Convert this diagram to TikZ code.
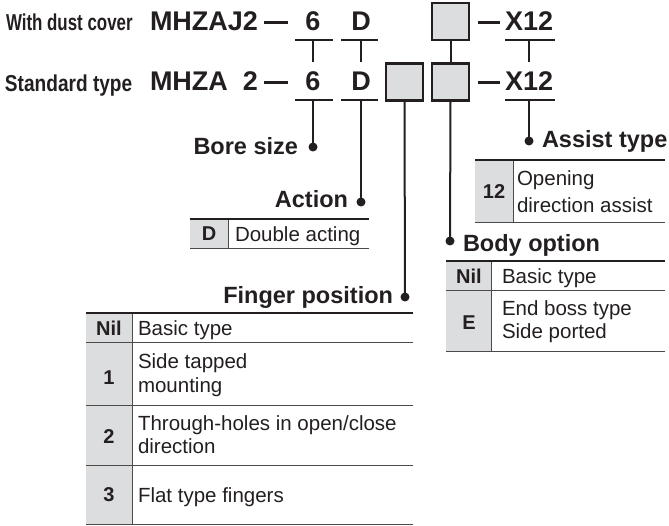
\documentclass[tikz,border=0pt]{standalone}
\usepackage{fontspec}
\setmainfont{Liberation Sans}
\usepackage{graphicx}
\definecolor{ink}{HTML}{231F20}
\definecolor{cellgray}{HTML}{DCDDDF}
\definecolor{rulegray}{HTML}{4A4A4A}
\tikzset{
  code/.style={font=\fontsize{27}{30}\selectfont\bfseries},
  lbl/.style={font=\fontsize{23.5}{26}\selectfont\bfseries},
  cond/.style={font=\fontsize{23}{25}\selectfont\bfseries, anchor=base west},
  celltxt/.style={font=\fontsize{20.5}{23}\selectfont, anchor=base west},
  keytxt/.style={font=\fontsize{20}{22}\selectfont\bfseries},
  conn/.style={draw=ink, line width=2pt},
  uline/.style={draw=ink, line width=2pt},
  dashln/.style={draw=ink, line width=3pt},
  dotnode/.style={circle, fill=ink, minimum size=9pt},
  gbox/.style={draw=ink, fill=cellgray, line width=2.2pt, minimum width=37pt, minimum height=37pt},
  toprule/.style={draw=ink, line width=2.4pt},
  thinrule/.style={draw=rulegray, line width=1pt},
}
\begin{document}
\begin{tikzpicture}[x=1pt, y=-1pt, every node/.style={inner sep=0pt, outer sep=0pt, text=ink}]
\useasboundingbox (0,0) rectangle (669,526);

% ---- header rows ----
\node[cond] (wdc) at (6,31) {\scalebox{0.735}[1]{With dust cover}};
\node[cond] (std) at (5,92) {\scalebox{0.83}[1]{Standard type}};

\node[code, anchor=base west] (m1) at (150,31) {MHZAJ2};
\node[code, anchor=base west] (m2a) at (150,91) {MHZA};
\node[code, anchor=base east] (m2b) at (258,91) {2};

\coordinate (da1) at (264,23); \coordinate (db1) at (288,23);
\coordinate (da2) at (264,83); \coordinate (db2) at (288,83);
\draw[dashln] (da1) -- (db1);
\draw[dashln] (da2) -- (db2);

\node[code, anchor=base] (s1) at (313,31) {6};
\node[code, anchor=base] (s2) at (313,91) {6};
\node[code, anchor=base] (a1) at (361,31) {D};
\node[code, anchor=base] (a2) at (361,91) {D};
\node[code, anchor=base west] (x1) at (505,31) {X12};
\node[code, anchor=base west] (x2) at (505,91) {X12};

% underlines
\coordinate (u6aL) at (295,40); \coordinate (u6aR) at (333,40);
\coordinate (u6bL) at (295,100); \coordinate (u6bR) at (333,100);
\coordinate (uDaL) at (341,40); \coordinate (uDaR) at (378,40);
\coordinate (uDbL) at (341,100); \coordinate (uDbR) at (378,100);
\coordinate (uXaL) at (505,40); \coordinate (uXaR) at (555,40);
\coordinate (uXbL) at (505,100); \coordinate (uXbR) at (555,100);
\draw[uline] (u6aL) -- (u6aR);
\draw[uline] (u6bL) -- (u6bR);
\draw[uline] (uDaL) -- (uDaR);
\draw[uline] (uDbL) -- (uDbR);
\draw[uline] (uXaL) -- (uXaR);
\draw[uline] (uXbL) -- (uXbR);

% boxes
\node[gbox] (bx1) at (450.5,21.5) {};
\node[gbox] (bx2) at (404.5,82) {};
\node[gbox] (bx3) at (450.5,82) {};

% dashes before X12
\coordinate (ea1) at (478,23); \coordinate (eb1) at (500,23);
\coordinate (ea2) at (478,83); \coordinate (eb2) at (500,83);
\draw[dashln] (ea1) -- (eb1);
\draw[dashln] (ea2) -- (eb2);

% short verticals between rows
\coordinate (v6t) at (313,40); \coordinate (v6b) at (313,62);
\coordinate (vDt) at (361,40); \coordinate (vDb) at (361,62);
\coordinate (vXt) at (529,40); \coordinate (vXb) at (529,62);
\draw[conn] (v6t) -- (v6b);
\draw[conn] (vDt) -- (vDb);
\draw[conn] (vXt) -- (vXb);
\draw[conn] (bx1.south) -- (bx3.north);

% ---- labels with dots ----
\coordinate (c6) at (313,100);
\coordinate (cD) at (361,100);
\coordinate (cX) at (529,100);
\node[dotnode] (dBore) at (313,147) {};
\node[dotnode] (dAct) at (361,202) {};
\node[dotnode] (dFin) at (405,297) {};
\node[dotnode] (dBody) at (450,241) {};
\node[dotnode] (dAss) at (529,141) {};
\draw[conn] (c6) -- (dBore.center);
\draw[conn] (cD) -- (dAct.center);
\draw[conn] (bx2.south) -- (dFin.center);
\draw[conn] (bx3.south) -- (dBody.center);
\draw[conn] (cX) -- (dAss.center);

\node[lbl, anchor=base east] (tBore) at (298,155) {Bore size};
\node[lbl, anchor=base east] (tAct) at (348,208) {Action};
\node[lbl, anchor=base east] (tFin) at (393,304) {Finger position};
\node[lbl, anchor=base west] (tBody) at (463,252) {Body option};
\node[lbl, anchor=base west] (tAss) at (542,148) {Assist type};

% ---- Action table ----
\fill[cellgray] (190,219) rectangle (228,249);
\draw[thinrule] (228,219) -- (228,249);
\draw[thinrule] (190,249) -- (369,249);
\draw[toprule] (190,219) -- (369,219);
\node[keytxt] (kD) at (209,234) {D};
\node[celltxt] (tD) at (235,242) {Double acting};

% ---- Assist table ----
\fill[cellgray] (475,160) rectangle (513,223);
\draw[thinrule] (513,160) -- (513,223);
\draw[thinrule] (475,223) -- (665,223);
\draw[toprule] (475,160) -- (665,160);
\node[keytxt] (k12) at (494,192) {12};
\node[celltxt] (t12a) at (517,186) {Opening};
\node[celltxt] (t12b) at (517,213) {direction assist};

% ---- Body option table ----
\fill[cellgray] (446,261) rectangle (491,352);
\draw[thinrule] (491,261) -- (491,352);
\draw[thinrule] (446,291) -- (665,291);
\draw[thinrule] (446,352) -- (665,352);
\draw[toprule] (446,261) -- (665,261);
\node[keytxt] (kBN) at (469,276) {Nil};
\node[celltxt] (tBN) at (502,284) {Basic type};
\node[keytxt] (kBE) at (469,323) {E};
\node[celltxt] (tBE1) at (502,316) {End boss type};
\node[celltxt] (tBE2) at (502,338) {Side ported};

% ---- Finger position table ----
\fill[cellgray] (86,313) rectangle (132,525);
\draw[thinrule] (132,313) -- (132,525);
\draw[thinrule] (86,343) -- (413,343);
\draw[thinrule] (86,405) -- (413,405);
\draw[thinrule] (86,465) -- (413,465);
\draw[thinrule] (86,524.5) -- (413,524.5);
\draw[toprule] (86,313) -- (413,313);
\node[keytxt] (kFN) at (109,328) {Nil};
\node[celltxt] (tFN) at (138,336) {Basic type};
\node[keytxt] (kF1) at (109,378) {1};
\node[celltxt] (tF1a) at (138,369) {Side tapped};
\node[celltxt] (tF1b) at (138,392) {mounting};
\node[keytxt] (kF2) at (109,437) {2};
\node[celltxt] (tF2a) at (138,430) {Through-holes in open/close};
\node[celltxt] (tF2b) at (138,453) {direction};
\node[keytxt] (kF3) at (109,495) {3};
\node[celltxt] (tF3) at (138,502) {Flat type fingers};
\end{tikzpicture}
\end{document}
